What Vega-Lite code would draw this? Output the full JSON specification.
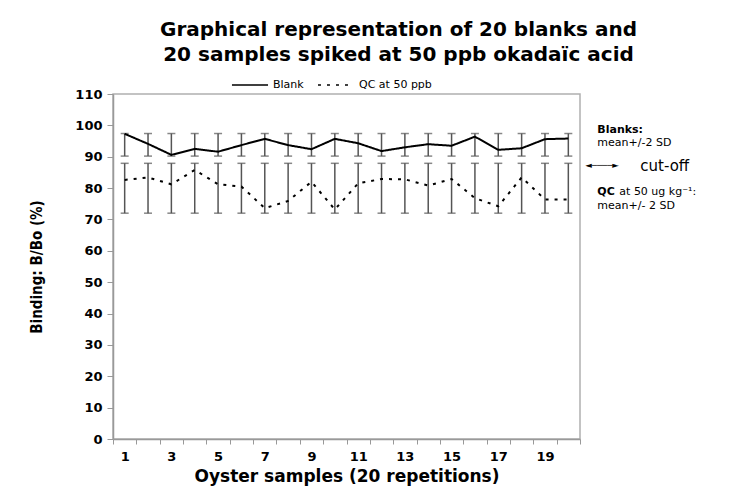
{
  "$schema": "https://vega.github.io/schema/vega-lite/v6.json",
  "autosize": {"type": "none"},
  "padding": {"left": 113, "top": 94, "right": 169, "bottom": 52},
  "width": 467,
  "height": 345,
  "background": "white",
  "title": {
    "text": ["Graphical representation of 20 blanks and", "20 samples spiked at 50 ppb okadaïc acid"],
    "font": "DejaVu Sans",
    "fontSize": 20,
    "fontWeight": "bold",
    "color": "black",
    "anchor": "middle",
    "frame": "group",
    "dx": 52,
    "offset": 1,
    "lineHeight": 25
  },
  "config": {
    "view": {"stroke": "#b0b0b0", "strokeWidth": 1.5},
    "axis": {"grid": false, "domainColor": "#999999", "domainWidth": 1.5, "tickColor": "#999999", "labelColor": "black", "titleColor": "black"},
    "axisY": {
      "values": [0, 10, 20, 30, 40, 50, 60, 70, 80, 90, 100, 110],
      "labelOverlap": false,
      "titleFont": "DejaVu Sans Condensed, Liberation Sans, sans-serif",
      "titleFontSize": 15,
      "titleFontWeight": "bold",
      "titlePadding": 30,
      "labelFont": "DejaVu Sans",
      "labelFontSize": 13,
      "labelFontWeight": "bold",
      "labelPadding": 5,
      "tickSize": 6
    }
  },
  "data": {
    "values": [
      {"sample": 1, "series": "Blank", "mean": 97.3, "lo": 90.2, "hi": 97.4},
      {"sample": 2, "series": "Blank", "mean": 94.1, "lo": 90.2, "hi": 97.4},
      {"sample": 3, "series": "Blank", "mean": 90.6, "lo": 90.2, "hi": 97.4},
      {"sample": 4, "series": "Blank", "mean": 92.5, "lo": 90.2, "hi": 97.4},
      {"sample": 5, "series": "Blank", "mean": 91.6, "lo": 90.2, "hi": 97.4},
      {"sample": 6, "series": "Blank", "mean": 93.7, "lo": 90.2, "hi": 97.4},
      {"sample": 7, "series": "Blank", "mean": 95.7, "lo": 90.2, "hi": 97.4},
      {"sample": 8, "series": "Blank", "mean": 93.7, "lo": 90.2, "hi": 97.4},
      {"sample": 9, "series": "Blank", "mean": 92.4, "lo": 90.2, "hi": 97.4},
      {"sample": 10, "series": "Blank", "mean": 95.7, "lo": 90.2, "hi": 97.4},
      {"sample": 11, "series": "Blank", "mean": 94.3, "lo": 90.2, "hi": 97.4},
      {"sample": 12, "series": "Blank", "mean": 91.8, "lo": 90.2, "hi": 97.4},
      {"sample": 13, "series": "Blank", "mean": 93.0, "lo": 90.2, "hi": 97.4},
      {"sample": 14, "series": "Blank", "mean": 94.0, "lo": 90.2, "hi": 97.4},
      {"sample": 15, "series": "Blank", "mean": 93.5, "lo": 90.2, "hi": 97.4},
      {"sample": 16, "series": "Blank", "mean": 96.4, "lo": 90.2, "hi": 97.4},
      {"sample": 17, "series": "Blank", "mean": 92.2, "lo": 90.2, "hi": 97.4},
      {"sample": 18, "series": "Blank", "mean": 92.7, "lo": 90.2, "hi": 97.4},
      {"sample": 19, "series": "Blank", "mean": 95.6, "lo": 90.2, "hi": 97.4},
      {"sample": 20, "series": "Blank", "mean": 95.8, "lo": 90.2, "hi": 97.4},
      {"sample": 1, "series": "QC at 50 ppb", "mean": 82.6, "lo": 72.0, "hi": 87.9},
      {"sample": 2, "series": "QC at 50 ppb", "mean": 83.4, "lo": 72.0, "hi": 87.9},
      {"sample": 3, "series": "QC at 50 ppb", "mean": 81.2, "lo": 72.0, "hi": 87.9},
      {"sample": 4, "series": "QC at 50 ppb", "mean": 85.8, "lo": 72.0, "hi": 87.9},
      {"sample": 5, "series": "QC at 50 ppb", "mean": 81.2, "lo": 72.0, "hi": 87.9},
      {"sample": 6, "series": "QC at 50 ppb", "mean": 80.5, "lo": 72.0, "hi": 87.9},
      {"sample": 7, "series": "QC at 50 ppb", "mean": 73.6, "lo": 72.0, "hi": 87.9},
      {"sample": 8, "series": "QC at 50 ppb", "mean": 75.9, "lo": 72.0, "hi": 87.9},
      {"sample": 9, "series": "QC at 50 ppb", "mean": 82.0, "lo": 72.0, "hi": 87.9},
      {"sample": 10, "series": "QC at 50 ppb", "mean": 73.2, "lo": 72.0, "hi": 87.9},
      {"sample": 11, "series": "QC at 50 ppb", "mean": 81.5, "lo": 72.0, "hi": 87.9},
      {"sample": 12, "series": "QC at 50 ppb", "mean": 82.9, "lo": 72.0, "hi": 87.9},
      {"sample": 13, "series": "QC at 50 ppb", "mean": 82.8, "lo": 72.0, "hi": 87.9},
      {"sample": 14, "series": "QC at 50 ppb", "mean": 80.8, "lo": 72.0, "hi": 87.9},
      {"sample": 15, "series": "QC at 50 ppb", "mean": 82.9, "lo": 72.0, "hi": 87.9},
      {"sample": 16, "series": "QC at 50 ppb", "mean": 76.8, "lo": 72.0, "hi": 87.9},
      {"sample": 17, "series": "QC at 50 ppb", "mean": 74.2, "lo": 72.0, "hi": 87.9},
      {"sample": 18, "series": "QC at 50 ppb", "mean": 83.4, "lo": 72.0, "hi": 87.9},
      {"sample": 19, "series": "QC at 50 ppb", "mean": 76.4, "lo": 72.0, "hi": 87.9},
      {"sample": 20, "series": "QC at 50 ppb", "mean": 76.4, "lo": 72.0, "hi": 87.9}
    ]
  },
  "encoding": {
    "x": {
      "field": "sample",
      "type": "ordinal",
      "scale": {"paddingInner": 0, "paddingOuter": 0},
      "axis": {
        "title": "Oyster samples (20 repetitions)",
        "titleFont": "DejaVu Sans",
        "titleFontSize": 17,
        "titleFontWeight": "bold",
        "titlePadding": 5,
        "labelFont": "DejaVu Sans",
        "labelFontSize": 13,
        "labelFontWeight": "bold",
        "labelAngle": 0,
        "labelPadding": 6,
        "tickBand": "extent",
        "tickSize": 5,
        "labelExpr": "datum.value % 2 == 1 ? datum.label : ''"
      }
    }
  },
  "layer": [
    {
      "mark": {"type": "rule", "color": "#555555", "strokeWidth": 1.5},
      "encoding": {
        "y": {"field": "lo", "type": "quantitative", "scale": {"domain": [0, 110], "nice": false}, "title": "Binding: B/Bo (%)"},
        "y2": {"field": "hi"}
      }
    },
    {
      "mark": {"type": "tick", "color": "#555555", "size": 8, "thickness": 1.5},
      "encoding": {"y": {"field": "lo", "type": "quantitative", "title": "Binding: B/Bo (%)"}}
    },
    {
      "mark": {"type": "tick", "color": "#555555", "size": 8, "thickness": 1.5},
      "encoding": {"y": {"field": "hi", "type": "quantitative", "title": "Binding: B/Bo (%)"}}
    },
    {
      "mark": {"type": "line", "color": "black", "strokeWidth": 2},
      "encoding": {
        "y": {"field": "mean", "type": "quantitative", "title": "Binding: B/Bo (%)"},
        "strokeDash": {
          "field": "series",
          "type": "nominal",
          "scale": {"domain": ["Blank", "QC at 50 ppb"], "range": [[1, 0], [3, 6]]},
          "legend": {
            "title": null,
            "orient": "none",
            "legendX": 118,
            "legendY": -28,
            "direction": "horizontal",
            "symbolType": "stroke",
            "symbolSize": 1300,
            "symbolStrokeWidth": 1.5,
            "symbolStrokeColor": "black",
            "labelFont": "DejaVu Sans",
            "labelFontSize": 11,
            "labelColor": "black",
            "columnPadding": 10
          }
        }
      }
    },
    {
      "data": {"values": [{"label": "Blanks:", "y": 98.5}, {"label": "QC", "y": 78.6}]},
      "mark": {"type": "text", "align": "left", "baseline": "middle", "dx": 29, "font": "DejaVu Sans", "fontSize": 11, "fontWeight": "bold", "color": "black"},
      "encoding": {"x": {"datum": 20}, "y": {"field": "y", "type": "quantitative"}, "text": {"field": "label"}}
    },
    {
      "data": {"values": [{"label": "mean+/-2 SD", "y": 94.4}, {"label": "mean+/- 2 SD", "y": 74.4}]},
      "mark": {"type": "text", "align": "left", "baseline": "middle", "dx": 29, "font": "DejaVu Sans", "fontSize": 11, "color": "black"},
      "encoding": {"x": {"datum": 20}, "y": {"field": "y", "type": "quantitative"}, "text": {"field": "label"}}
    },
    {
      "data": {"values": [{"label": "at 50 ug kg⁻¹:", "y": 78.6}]},
      "mark": {"type": "text", "align": "left", "baseline": "middle", "dx": 51, "font": "DejaVu Sans", "fontSize": 11, "color": "black"},
      "encoding": {"x": {"datum": 20}, "y": {"field": "y", "type": "quantitative"}, "text": {"field": "label"}}
    },
    {
      "data": {"values": [{"label": "◄────►", "y": 87.4}]},
      "mark": {"type": "text", "align": "left", "baseline": "middle", "dx": 17, "font": "DejaVu Sans", "fontSize": 8.5, "color": "black"},
      "encoding": {"x": {"datum": 20}, "y": {"field": "y", "type": "quantitative"}, "text": {"field": "label"}}
    },
    {
      "data": {"values": [{"label": "cut-off", "y": 87.2}]},
      "mark": {"type": "text", "align": "left", "baseline": "middle", "dx": 72, "font": "DejaVu Sans", "fontSize": 15, "color": "black"},
      "encoding": {"x": {"datum": 20}, "y": {"field": "y", "type": "quantitative"}, "text": {"field": "label"}}
    }
  ]
}
